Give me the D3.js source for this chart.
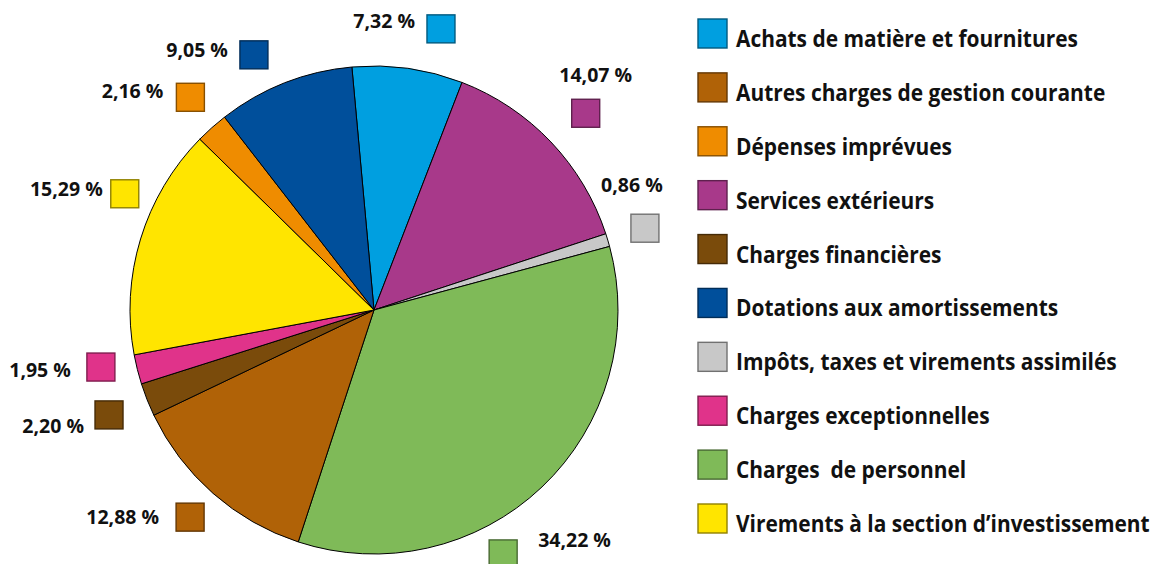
<!DOCTYPE html>
<html>
<head>
<meta charset="utf-8">
<script src="https://cdn.jsdelivr.net/npm/d3@7"></script>
<style>
  html, body { margin: 0; padding: 0; background: #fff; }
  svg { display: block; }
  text { font-family: "Open Sans", sans-serif; font-weight: 700; fill: #111; }
  .legend text { white-space: pre; }
</style>
</head>
<body>
<svg id="chart" width="1160" height="564"></svg>
<script>
// categories, legend order
const categories = [
  "Achats de matière et fournitures",
  "Autres charges de gestion courante",
  "Dépenses imprévues",
  "Services extérieurs",
  "Charges financières",
  "Dotations aux amortissements",
  "Impôts, taxes et virements assimilés",
  "Charges exceptionnelles",
  "Charges  de personnel",
  "Virements à la section d\u2019investissement"
];
const shares = [7.32, 12.88, 2.16, 14.07, 2.20, 9.05, 0.86, 1.95, 34.22, 15.29];
const colors = ["#009fe0", "#b06207", "#ef8c00", "#a8398a", "#7a4b0b",
                "#004f9b", "#c8c8c8", "#e0338a", "#7fba58", "#ffe500"];
// order of the slices, clockwise from the top
const pieOrder = [0, 3, 6, 8, 1, 4, 7, 9, 2, 5];

// label placement: box angle (deg) and distance from centre, text offset from box
const labelAngle = [13.4, 221.6, 319.2, 47.1, 248.4, 334.8, 73.2, 258.2, 152.1, 295.0];
const labelDist  = [289, 277, 281, 289, 285, 282, 283, 279, 276, 275];
const textOffset = [
  [-26, -1, "end"], [-31, 7, "end"], [-27, 1, "end"], [10, -31, "middle"], [-25, 18, "end"],
  [-26, 2, "end"], [-13, -36, "middle"], [-30, 10, "end"], [35, -7, "start"], [-22, 2, "end"]
];

const width = 1160, height = 564;
const cx = 374, cy = 310, radius = 244;
const startDeg = -5.2;

const svg = d3.select("#chart");

const data = pieOrder.map(i => ({ i, share: shares[i] }));

const pie = d3.pie()
  .sort(null)
  .value(d => d.share)
  .startAngle(startDeg * Math.PI / 180)
  .endAngle((startDeg + 360) * Math.PI / 180);

const arc = d3.arc().innerRadius(0).outerRadius(radius);

const g = svg.append("g").attr("transform", `translate(${cx},${cy})`);

g.selectAll("path")
  .data(pie(data))
  .join("path")
  .attr("d", arc)
  .attr("fill", d => colors[d.data.i])
  .attr("stroke", "#000")
  .attr("stroke-width", 1)
  .attr("stroke-linejoin", "round");

// percentage labels with small colour boxes
const fmt = v => d3.format(".2f")(v).replace(".", ",") + " %";
const box = 28;

const lab = g.selectAll("g.lab")
  .data(categories.map((c, i) => i))
  .join("g")
  .attr("class", "lab")
  .attr("transform", i => {
    const [x, y] = d3.pointRadial(labelAngle[i] * Math.PI / 180, labelDist[i]);
    return `translate(${x},${y})`;
  });

lab.append("rect")
  .attr("x", -box / 2).attr("y", -box / 2)
  .attr("width", box).attr("height", box)
  .attr("fill", i => colors[i])
  .attr("stroke", i => d3.color(colors[i]).darker(1.6))
  .attr("stroke-width", 1.4);

lab.append("text")
  .attr("x", i => textOffset[i][0])
  .attr("y", i => textOffset[i][1])
  .attr("text-anchor", i => textOffset[i][2])
  .attr("font-size", 19.5)
  .text(i => fmt(shares[i]));

// legend
const legendY = d3.scalePoint()
  .domain(d3.range(categories.length))
  .range([19, 504]);

const legend = svg.append("g").attr("class", "legend").attr("transform", "translate(698,0)");

const item = legend.selectAll("g")
  .data(categories.map((c, i) => i))
  .join("g")
  .attr("transform", i => `translate(0,${legendY(i)})`);

item.append("rect")
  .attr("width", 29).attr("height", 29)
  .attr("fill", i => colors[i])
  .attr("stroke", i => d3.color(colors[i]).darker(1.6))
  .attr("stroke-width", 1.4);

const legendText = item.append("text")
  .attr("font-size", 23.5)
  .text(i => categories[i]);

// squeeze the legend text to the narrower face of the original
const sx = 342 / legendText.node().getComputedTextLength();
legendText.attr("transform", `translate(38,28) scale(${sx},1)`);
</script>
</body>
</html>
